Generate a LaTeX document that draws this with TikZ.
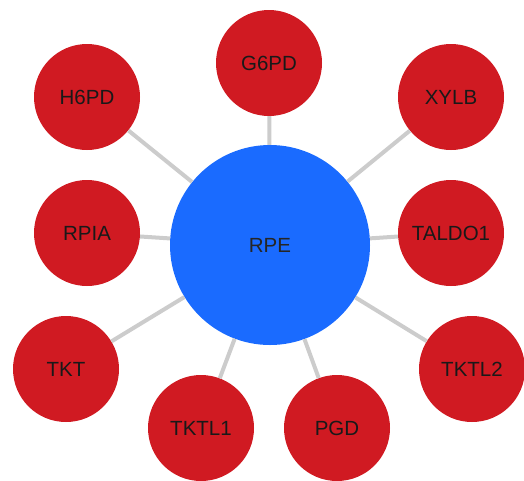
\documentclass[tikz,border=0pt]{standalone}
\usepackage{fontspec}
\setmainfont{Liberation Sans}
\definecolor{nodered}{HTML}{D01A22}
\definecolor{hubblue}{HTML}{1A6BFF}
\definecolor{edgegray}{HTML}{CCCCCC}
\begin{document}
\begin{tikzpicture}[x=1pt,y=-1pt,
  leaf/.style={circle,fill=nodered,minimum size=106pt,inner sep=0pt,font=\fontsize{20.5}{22}\selectfont,text=black!90},
  hub/.style={circle,fill=hubblue,minimum size=200pt,inner sep=0pt,font=\fontsize{20.5}{22}\selectfont,text=black!85},
  link/.style={draw=edgegray,line width=4pt}]
\useasboundingbox (0,0) rectangle (524,480);
\node[hub] (rpe) at (270,245) {RPE};
\node[leaf] (g6pd) at (269,63) {G6PD};
\node[leaf] (h6pd) at (87,97) {H6PD};
\node[leaf] (xylb) at (451,97) {XYLB};
\node[leaf] (rpia) at (87,233) {RPIA};
\node[leaf] (taldo) at (451,233) {TALDO1};
\node[leaf] (tkt) at (66,369) {TKT};
\node[leaf] (tktl2) at (472,369) {TKTL2};
\node[leaf] (tktl1) at (201,428) {TKTL1};
\node[leaf] (pgd) at (337,428) {PGD};
\foreach \n in {g6pd,h6pd,xylb,rpia,taldo,tkt,tktl2,tktl1,pgd}
  \path[link] (rpe) -- (\n);
\end{tikzpicture}
\end{document}
